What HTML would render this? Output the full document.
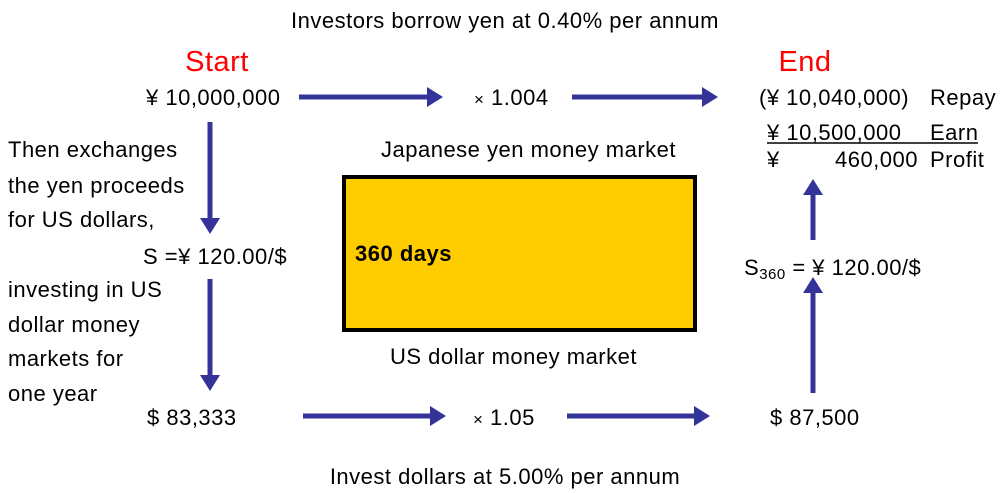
<!DOCTYPE html>
<html><head><style>
html,body{margin:0;padding:0;background:#fff;}
svg{display:block;}
text{font-family:"Liberation Sans",Arial,sans-serif;font-size:22px;letter-spacing:0.5px;fill:#000;}
</style></head><body>
<svg width="1001" height="493" viewBox="0 0 1001 493" xmlns="http://www.w3.org/2000/svg">
<defs>
<marker id="a" markerWidth="4" markerHeight="4" refX="0" refY="2" orient="auto" markerUnits="strokeWidth">
<path d="M0,0 L3.2,2 L0,4 Z" fill="#333399"/>
</marker>
</defs>
<g stroke="#333399" stroke-width="5" fill="none" marker-end="url(#a)">
<line x1="299" y1="97" x2="427" y2="97"/>
<line x1="572" y1="97" x2="702" y2="97"/>
<line x1="210" y1="122" x2="210" y2="218"/>
<line x1="210" y1="279" x2="210" y2="375"/>
<line x1="303" y1="416" x2="430" y2="416"/>
<line x1="567" y1="416" x2="694" y2="416"/>
<line x1="813" y1="393" x2="813" y2="293"/>
<line x1="813" y1="240" x2="813" y2="195"/>
</g>
<rect x="344" y="177" width="351" height="153" fill="#FFCC00" stroke="#000" stroke-width="4"/>
<text x="355" y="261" style="font-weight:bold">360 days</text>
<text x="505" y="28" text-anchor="middle">Investors borrow yen at 0.40% per annum</text>
<text x="217" y="71" text-anchor="middle" style="font-size:29px;fill:#ff0000">Start</text>
<text x="805" y="71" text-anchor="middle" style="font-size:29px;fill:#ff0000">End</text>
<text x="146" y="105">¥ 10,000,000</text>
<text x="474" y="105"><tspan style="font-size:17px">×</tspan> 1.004</text>
<text x="759" y="105">(¥ 10,040,000)</text>
<text x="930" y="105">Repay</text>
<text x="767" y="140">¥ 10,500,000</text>
<text x="930" y="140">Earn</text>
<line x1="767" y1="143" x2="978" y2="143" stroke="#000" stroke-width="1.5"/>
<text x="767" y="167">¥</text>
<text x="918" y="167" text-anchor="end">460,000</text>
<text x="930" y="167">Profit</text>
<text x="381" y="157">Japanese yen money market</text>
<text x="390" y="364">US dollar money market</text>
<text x="744" y="275">S<tspan style="font-size:15px" dy="4">360</tspan><tspan dy="-4"> = ¥ 120.00/$</tspan></text>
<text x="8" y="157">Then exchanges</text>
<text x="8" y="193">the yen proceeds</text>
<text x="8" y="227">for US dollars,</text>
<text x="143" y="264">S =¥ 120.00/$</text>
<text x="8" y="297">investing in US</text>
<text x="8" y="332">dollar money</text>
<text x="8" y="366">markets for</text>
<text x="8" y="401">one year</text>
<text x="147" y="425">$ 83,333</text>
<text x="473" y="425"><tspan style="font-size:17px">×</tspan> 1.05</text>
<text x="770" y="425">$ 87,500</text>
<text x="505" y="484" text-anchor="middle">Invest dollars at 5.00% per annum</text>
</svg>
</body></html>
